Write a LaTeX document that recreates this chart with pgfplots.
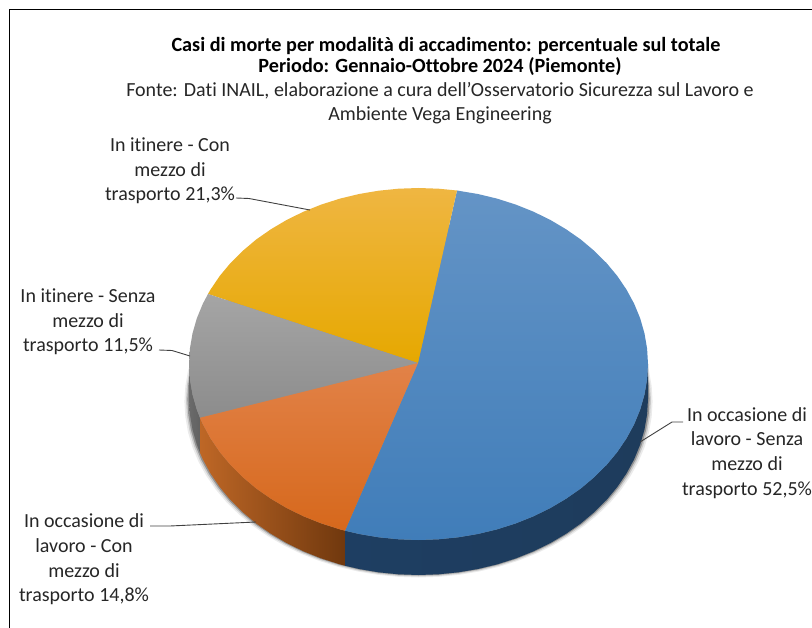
\documentclass[border=0pt]{standalone}
\usepackage{pgfplots}
\pgfplotsset{compat=1.18}
\usepackage{pgfplotstable}
\usepackage{fontspec}
\setmainfont{Carlito}[Ligatures=NoCommon]
\definecolor{txt}{HTML}{262626}
\definecolor{lead}{HTML}{404040}
\tikzset{lbl/.style={text=txt, align=center, inner sep=0pt, font=\fontsize{20}{24.7}\selectfont}}
\pgfplotstableread{
x y
648.0 364
647.1 348.7
644.5 333.4
640.2 318.4
634.2 303.8
626.5 289.6
617.3 276
606.5 263
594.3 250.9
580.8 239.5
566.0 229.2
550.1 219.8
533.3 211.6
515.5 204.5
497.0 198.6
477.9 194
458.4 190.7
438.5 188.7
418.5 188
398.5 188.7
378.6 190.7
359.1 194
340.0 198.6
321.5 204.5
303.7 211.6
286.9 219.8
271.0 229.2
256.2 239.5
242.7 250.9
230.5 263
219.7 276
210.5 289.6
202.8 303.8
196.8 318.4
192.5 333.4
189.9 348.7
189 364
189.9 379.3
192.5 394.6
196.8 409.6
202.8 424.2
210.5 438.4
219.7 452
230.5 465
242.7 477.1
256.2 488.5
271.0 498.8
286.9 508.2
303.7 516.4
321.5 523.5
340.0 529.4
359.1 534
378.6 537.3
398.5 539.3
418.5 540
438.5 539.3
458.4 537.3
477.9 534
497.0 529.4
515.5 523.5
533.3 516.4
550.1 508.2
566.0 498.8
580.8 488.5
594.3 477.1
606.5 465
617.3 452
626.5 438.4
634.2 424.2
640.2 409.6
644.5 394.6
647.1 379.3
}\ellipsetable
\begin{document}
\begin{tikzpicture}
\begin{axis}[
  scale only axis, width=812pt, height=628pt,
  xmin=0, xmax=812, ymin=0, ymax=628, y dir=reverse,
  hide axis, clip=false,
]
% chart frame
\addplot[black, line width=1.2pt] coordinates {(9.5,628) (9.5,9.5) (812,9.5)};
% soft shadow below the disc
\addplot[fill=black, fill opacity=.08, draw=none] table[x expr=418.5+(\thisrow{x}-418.5)*1.020, y expr=\thisrow{y}+37.5] {\ellipsetable} -- cycle;
\addplot[fill=black, fill opacity=.14, draw=none] table[x expr=418.5+(\thisrow{x}-418.5)*1.013, y expr=\thisrow{y}+36.5] {\ellipsetable} -- cycle;
\addplot[fill=black, fill opacity=.28, draw=none] table[x expr=418.5+(\thisrow{x}-418.5)*1.007, y expr=\thisrow{y}+35.5] {\ellipsetable} -- cycle;
% side walls
\addplot[draw=none, left color=black!58, right color=black!62] coordinates {
(189,364)(189.9,379.3)(192.5,394.6)(196.8,409.6)(200,417.8)
(200,452.8)(196.8,444.6)(192.5,429.6)(189.9,414.3)(189,399)} -- cycle;
\addplot[draw=none, left color={rgb,255:red,190;green,103;blue,38}, right color={rgb,255:red,112;green,56;blue,14}] coordinates {
(200,417.8)(202.8,424.2)(210.5,438.4)(219.7,452)(230.5,465)(242.7,477.1)(256.2,488.5)(271.0,498.8)(286.9,508.2)(303.7,516.4)(321.5,523.5)(340.0,529.4)(345,530.7)
(345,565.7)(340.0,564.4)(321.5,558.5)(303.7,551.4)(286.9,543.2)(271.0,533.8)(256.2,523.5)(242.7,512.1)(230.5,500)(219.7,487)(210.5,473.4)(202.8,459.2)(200,452.8)} -- cycle;
\addplot[draw=none, left color={rgb,255:red,30;green,62;blue,98}, middle color={rgb,255:red,26;green,50;blue,78}, right color={rgb,255:red,30;green,60;blue,92}] coordinates {
(345,530.7)(359.1,534)(378.6,537.3)(398.5,539.3)(418.5,540)(438.5,539.3)(458.4,537.3)(477.9,534)(497.0,529.4)(515.5,523.5)(533.3,516.4)(550.1,508.2)(566.0,498.8)(580.8,488.5)(594.3,477.1)(606.5,465)(617.3,452)(626.5,438.4)(634.2,424.2)(640.2,409.6)(644.5,394.6)(647.1,379.3)(648.0,364)
(648.0,399)(647.1,414.3)(644.5,429.6)(640.2,444.6)(634.2,459.2)(626.5,473.4)(617.3,487)(606.5,500)(594.3,512.1)(580.8,523.5)(566.0,533.8)(550.1,543.2)(533.3,551.4)(515.5,558.5)(497.0,564.4)(477.9,569)(458.4,572.3)(438.5,574.3)(418.5,575)(398.5,574.3)(378.6,572.3)(359.1,569)(345,565.7)} -- cycle;
% top faces: 52,5 / 14,8 / 11,5 / 21,3
\addplot[draw=none, top color={rgb,255:red,100;green,148;blue,198}, middle color={rgb,255:red,74;green,135;blue,195}, bottom color={rgb,255:red,64;green,125;blue,185}] coordinates {
(418,363)(457,190.5)(477.9,194)(497.0,198.6)(515.5,204.5)(533.3,211.6)(550.1,219.8)(566.0,229.2)(580.8,239.5)(594.3,250.9)(606.5,263)(617.3,276)(626.5,289.6)(634.2,303.8)(640.2,318.4)(644.5,333.4)(647.1,348.7)(648.0,364)(647.1,379.3)(644.5,394.6)(640.2,409.6)(634.2,424.2)(626.5,438.4)(617.3,452)(606.5,465)(594.3,477.1)(580.8,488.5)(566.0,498.8)(550.1,508.2)(533.3,516.4)(515.5,523.5)(497.0,529.4)(477.9,534)(458.4,537.3)(438.5,539.3)(418.5,540)(398.5,539.3)(378.6,537.3)(359.1,534)(345,530.7)} -- cycle;
\addplot[draw=none, top color={rgb,255:red,239;green,182;blue,66}, middle color={rgb,255:red,240;green,177;blue,0}, bottom color={rgb,255:red,230;green,168;blue,0}] coordinates {
(418,363)(208,294)(210.5,289.6)(219.7,276)(230.5,263)(242.7,250.9)(256.2,239.5)(271.0,229.2)(286.9,219.8)(303.7,211.6)(321.5,204.5)(340.0,198.6)(359.1,194)(378.6,190.7)(398.5,188.7)(418.5,188)(438.5,188.7)(457,190.5)} -- cycle;
\addplot[draw=none, top color={rgb,255:red,165;green,165;blue,165}, bottom color={rgb,255:red,140;green,140;blue,140}] coordinates {
(418,363)(200,417.8)(196.8,409.6)(192.5,394.6)(189.9,379.3)(189,364)(189.9,348.7)(192.5,333.4)(196.8,318.4)(202.8,303.8)(208,294)} -- cycle;
\addplot[draw=none, top color={rgb,255:red,226;green,130;blue,72}, bottom color={rgb,255:red,214;green,104;blue,28}] coordinates {
(418,363)(345,530.7)(340.0,529.4)(321.5,523.5)(303.7,516.4)(286.9,508.2)(271.0,498.8)(256.2,488.5)(242.7,477.1)(230.5,465)(219.7,452)(210.5,438.4)(202.8,424.2)(200,417.8)} -- cycle;
% leader lines
\addplot[lead, line width=.9pt] coordinates {(236,198)(249,198.5)(310,210)};
\addplot[lead, line width=.9pt] coordinates {(159,350)(172,350.5)(190,356)};
\addplot[lead, line width=.9pt] coordinates {(150,526)(170,526)(256,522)};
\addplot[lead, line width=.9pt] coordinates {(640,442)(672,422)(683,422)};
% titles
\node[lbl, font=\fontsize{20.2}{24}\selectfont\bfseries, text=black] at (axis cs:446,46) {Casi di morte per modalità di accadimento: percentuale sul totale};
\node[lbl, font=\fontsize{20.2}{24}\selectfont\bfseries, text=black] at (axis cs:440,67) {Periodo: Gennaio-Ottobre 2024 (Piemonte)};
\node[lbl] at (axis cs:440,91) {Fonte: Dati INAIL, elaborazione a cura dell'Osservatorio Sicurezza sul Lavoro e};
\node[lbl] at (axis cs:440,115) {Ambiente Vega Engineering};
% data labels
\node[lbl] at (axis cs:170,171) {In itinere - Con\\mezzo di\\trasporto 21,3\%};
\node[lbl] at (axis cs:88,322) {In itinere - Senza\\mezzo di\\trasporto 11,5\%};
\node[lbl] at (axis cs:84,559.5) {In occasione di\\lavoro - Con\\mezzo di\\trasporto 14,8\%};
\node[lbl] at (axis cs:747,453) {In occasione di\\lavoro - Senza\\mezzo di\\trasporto 52,5\%};
\end{axis}
\pgfresetboundingbox
\useasboundingbox (0,0) rectangle (812pt,628pt);
\end{tikzpicture}
\end{document}
